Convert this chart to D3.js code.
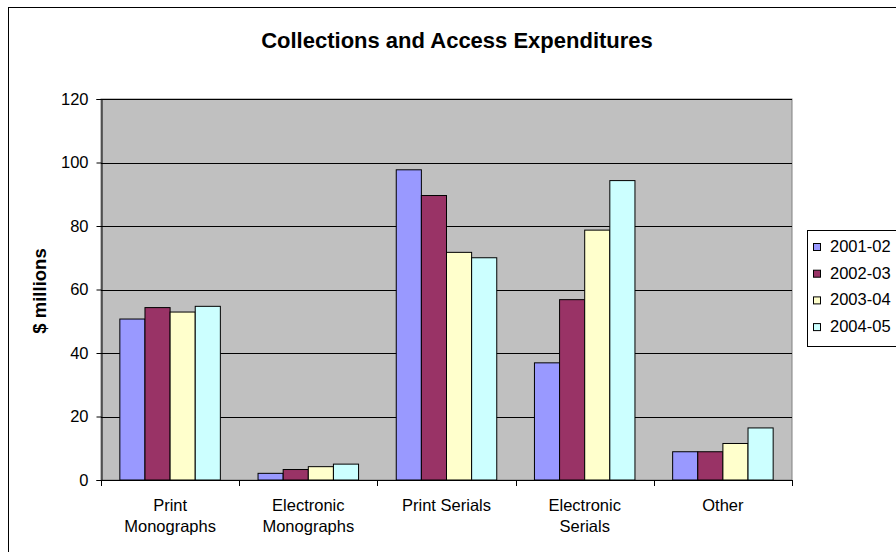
<!DOCTYPE html>
<html><head><meta charset="utf-8">
<script src="https://cdn.jsdelivr.net/npm/d3@7"></script>
<style>body{margin:0;background:#fff}svg{display:block;font-family:"Liberation Sans",Arial,sans-serif}</style>
</head><body>
<svg id="c" width="896" height="552"></svg>
<script>
const categories = [["Print","Monographs"],["Electronic","Monographs"],["Print Serials"],["Electronic","Serials"],["Other"]];
const seriesNames = ["2001-02","2002-03","2003-04","2004-05"];
const colors = ["#9999FF","#993366","#FFFFCC","#CCFFFF"];
const values2001 = [50.7, 2.1, 97.7, 36.9, 8.9];
const values2002 = [54.3, 3.3, 89.6, 56.8, 8.9];
const values2003 = [52.9, 4.2, 71.7, 78.7, 11.5];
const values2004 = [54.7, 5.0, 70.0, 94.3, 16.4];
const yTicks = [0,20,40,60,80,100,120];
const series = [values2001, values2002, values2003, values2004];

const svg = d3.select("#c");
const L = 101, R = 792, T = 99, B = 480;
const FS = "16.5px";
// outer border
svg.append("rect").attr("x",8.5).attr("y",7.5).attr("width",900).attr("height",560)
  .attr("fill","#fff").attr("stroke","#000").attr("stroke-width",1);
svg.append("text").attr("x",457).attr("y",48).attr("text-anchor","middle")
  .attr("font-size","22px").attr("font-weight","bold").text("Collections and Access Expenditures");

const x0 = d3.scaleBand().domain(d3.range(categories.length)).range([L,R]).paddingInner(0).paddingOuter(0);
const x1 = d3.scaleBand().domain(d3.range(seriesNames.length)).range([0,x0.bandwidth()]).paddingInner(0).paddingOuter(0.75);
const y = d3.scaleLinear().domain([0,120]).range([B,T]);

svg.append("rect").attr("x",L).attr("y",T).attr("width",R-L).attr("height",B-T)
  .attr("fill","#C0C0C0").attr("stroke","#808080");
// grid
svg.append("g").selectAll("line").data(yTicks.filter(d=>d>0)).join("line")
  .attr("x1",L).attr("x2",R).attr("y1",d=>Math.round(y(d))+0.5).attr("y2",d=>Math.round(y(d))+0.5)
  .attr("stroke","#000").attr("stroke-width",1);

// bars
const g = svg.append("g");
series.forEach((vals,si)=>{
  g.selectAll(null).data(vals).join("rect")
    .attr("x",(d,i)=>x0(i)+x1(si))
    .attr("y",d=>y(d))
    .attr("width",x1.bandwidth())
    .attr("height",d=>B-y(d))
    .attr("fill",colors[si]).attr("stroke","#000").attr("stroke-width",1);
});

// y axis
const ya = d3.axisLeft(y).tickValues(yTicks).tickSize(5).tickPadding(8);
const yg = svg.append("g").attr("transform",`translate(${L+0.5},0)`).call(ya);
yg.selectAll("text").attr("font-size",FS).attr("fill","#000").attr("font-family","Liberation Sans, Arial");
yg.select(".domain").attr("stroke","#000");
yg.selectAll(".tick line").attr("stroke","#000");

// x axis
svg.append("line").attr("x1",L).attr("x2",R).attr("y1",B+0.5).attr("y2",B+0.5).attr("stroke","#000");
const xt = d3.range(categories.length+1).map(i=> i<categories.length ? x0(i) : R);
svg.append("g").selectAll("line").data(xt).join("line")
  .attr("x1",d=>Math.round(d)+0.5).attr("x2",d=>Math.round(d)+0.5).attr("y1",B).attr("y2",B+6).attr("stroke","#000");
const lab = svg.append("g").selectAll("text").data(categories).join("text")
  .attr("text-anchor","middle").attr("font-size",FS)
  .attr("transform",(d,i)=>`translate(${x0(i)+x0.bandwidth()/2},0)`);
lab.selectAll("tspan").data(d=>d).join("tspan").attr("x",0).attr("y",(d,j)=>511+j*21).text(d=>d);

svg.append("text").attr("transform","translate(46,291) rotate(-90)").attr("text-anchor","middle")
  .attr("font-size","18.5px").attr("font-weight","bold").text("$ millions");

// legend
svg.append("rect").attr("x",807.5).attr("y",230.5).attr("width",100).attr("height",116)
  .attr("fill","#fff").attr("stroke","#000");
const lg = svg.append("g").selectAll("g").data(seriesNames).join("g")
  .attr("transform",(d,i)=>`translate(813,${252+i*26.7})`);
lg.append("rect").attr("x",0.5).attr("y",-8.5).attr("width",7).attr("height",7)
  .attr("fill",(d,i)=>colors[i]).attr("stroke","#000");
lg.append("text").attr("x",17).attr("y",0).attr("font-size",FS).text(d=>d);
</script>
</body></html>
